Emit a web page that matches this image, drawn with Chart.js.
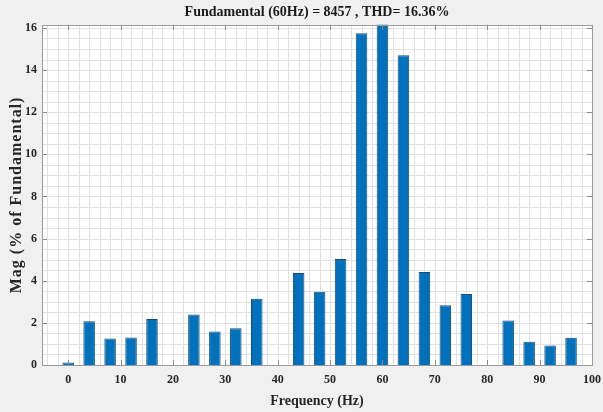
<!DOCTYPE html>
<html>
<head>
<meta charset="utf-8">
<script src="https://cdn.jsdelivr.net/npm/chart.js@4.4.1/dist/chart.umd.min.js"></script>
<style>
  html, body { margin: 0; padding: 0; background: #f0f0f0; }
  #wrap { width: 603px; height: 412px; }
</style>
</head>
<body>
<div id="wrap"><canvas id="spectrum" width="603" height="412"></canvas></div>
<script>
// Harmonic spectrum, magnitude in % of the 60 Hz fundamental
const frequencies = [0, 4, 8, 12, 16, 24, 28, 32, 36, 44, 48, 52, 56, 60, 64, 68, 72, 76, 84, 88, 92, 96];
const magnitudes  = [0.12, 2.08, 1.26, 1.30, 2.18, 2.40, 1.59, 1.75, 3.14, 4.37, 3.48, 5.03, 15.75, 16.30, 14.71, 4.41, 2.84, 3.37, 2.11, 1.10, 0.92, 1.29];
const xTickValues = [0, 10, 20, 30, 40, 50, 60, 70, 80, 90, 100];
const yTickValues = [0, 2, 4, 6, 8, 10, 12, 14, 16];
const chartTitle = 'Fundamental (60Hz) = 8457 , THD= 16.36%';
const xAxisTitle = 'Frequency (Hz)';
const yAxisTitle = 'Mag (% of Fundamental)';

const serif = '"Liberation Serif", "Times New Roman", serif';

// Axes box: grey figure, white plot area, minor grid, inward tick marks, y label
const axesBox = {
  id: 'axesBox',
  beforeDraw(chart) {
    const { ctx, chartArea: a, scales: { x, y } } = chart;
    ctx.save();
    ctx.fillStyle = '#f0f0f0';
    ctx.fillRect(0, 0, chart.width, chart.height);
    ctx.fillStyle = '#ffffff';
    ctx.fillRect(a.left, a.top, a.right - a.left, a.bottom - a.top);
    ctx.strokeStyle = '#e1e1e1';
    ctx.lineWidth = 1;
    ctx.beginPath();
    for (let v = -4; v < 100; v += 2) {
      const px = Math.round(x.getPixelForValue(v)) + 0.5;
      ctx.moveTo(px, a.top); ctx.lineTo(px, a.bottom);
    }
    for (let v = 0.5; v < y.max; v += 0.5) {
      const py = Math.round(y.getPixelForValue(v)) + 0.5;
      ctx.moveTo(a.left, py); ctx.lineTo(a.right, py);
    }
    ctx.stroke();

    // rotated y-axis title, slightly letter-spaced
    ctx.translate(17, (a.top + a.bottom) / 2);
    ctx.rotate(-Math.PI / 2);
    ctx.font = 'bold 16px ' + serif;
    if ('letterSpacing' in ctx) ctx.letterSpacing = '1px';
    ctx.fillStyle = '#262626';
    ctx.textAlign = 'center';
    ctx.textBaseline = 'middle';
    ctx.fillText(yAxisTitle, 0, 0);
    ctx.restore();
  },
  afterDatasetsDraw(chart) {
    const { ctx, chartArea: a, scales: { x, y } } = chart;
    const len = 5;
    ctx.save();
    ctx.strokeStyle = '#8a8a8a';
    ctx.lineWidth = 1;
    ctx.beginPath();
    xTickValues.forEach(v => {
      const px = Math.round(x.getPixelForValue(v)) + 0.5;
      ctx.moveTo(px, a.bottom); ctx.lineTo(px, a.bottom - len);
      ctx.moveTo(px, a.top); ctx.lineTo(px, a.top + len);
    });
    yTickValues.forEach(v => {
      const py = Math.round(y.getPixelForValue(v)) + 0.5;
      ctx.moveTo(a.left, py); ctx.lineTo(a.left + len, py);
      ctx.moveTo(a.right, py); ctx.lineTo(a.right - len, py);
    });
    ctx.stroke();
    ctx.strokeStyle = '#9a9a9a';
    ctx.strokeRect(Math.round(a.left) + 0.5, Math.round(a.top) + 0.5,
                   Math.round(a.right - a.left), Math.round(a.bottom - a.top));
    ctx.restore();
  }
};

new Chart(document.getElementById('spectrum'), {
  type: 'bar',
  data: {
    datasets: [{
      data: frequencies.map((f, i) => ({ x: f, y: magnitudes[i] })),
      backgroundColor: '#0072bd',
      borderColor: '#174b73',
      borderWidth: 1,
      barPercentage: 0.55,
      categoryPercentage: 1.0
    }]
  },
  options: {
    responsive: false,
    animation: false,
    devicePixelRatio: 1,
    layout: { padding: { left: 0, right: 11, top: 0, bottom: 0 } },
    plugins: {
      legend: { display: false },
      tooltip: { enabled: false },
      title: {
        display: true,
        fullSize: false,
        text: chartTitle,
        color: '#1a1a1a',
        font: { family: serif, size: 14, weight: 'bold', lineHeight: 1.2 },
        padding: { top: 4, bottom: 4 }
      }
    },
    scales: {
      x: {
        type: 'linear',
        min: -5,
        max: 100,
        offset: false,
        grid: { display: false, drawTicks: false },
        border: { display: false },
        afterBuildTicks(scale) { scale.ticks = xTickValues.map(v => ({ value: v })); },
        afterFit(scale) {
          scale.height = 47;
          scale.paddingLeft = 0;
          scale.paddingRight = 0;
        },
        ticks: {
          color: '#262626',
          padding: 8,
          maxRotation: 0,
          autoSkip: false,
          font: { family: serif, size: 12, weight: 'bold' }
        },
        title: {
          display: true,
          text: xAxisTitle,
          color: '#262626',
          font: { family: serif, size: 14, weight: 'bold', lineHeight: 1.2 },
          padding: { top: 0, bottom: 2 }
        }
      },
      y: {
        type: 'linear',
        min: 0,
        max: 16.15,
        grid: { display: false, drawTicks: false },
        border: { display: false },
        afterBuildTicks(scale) { scale.ticks = yTickValues.map(v => ({ value: v })); },
        afterFit(scale) {
          scale.width = 42;
          scale.paddingTop = 0;
          scale.paddingBottom = 0;
        },
        ticks: {
          color: '#262626',
          padding: 5,
          autoSkip: false,
          font: { family: serif, size: 12, weight: 'bold' }
        },
        title: { display: false }
      }
    }
  },
  plugins: [axesBox]
});
</script>
</body>
</html>
